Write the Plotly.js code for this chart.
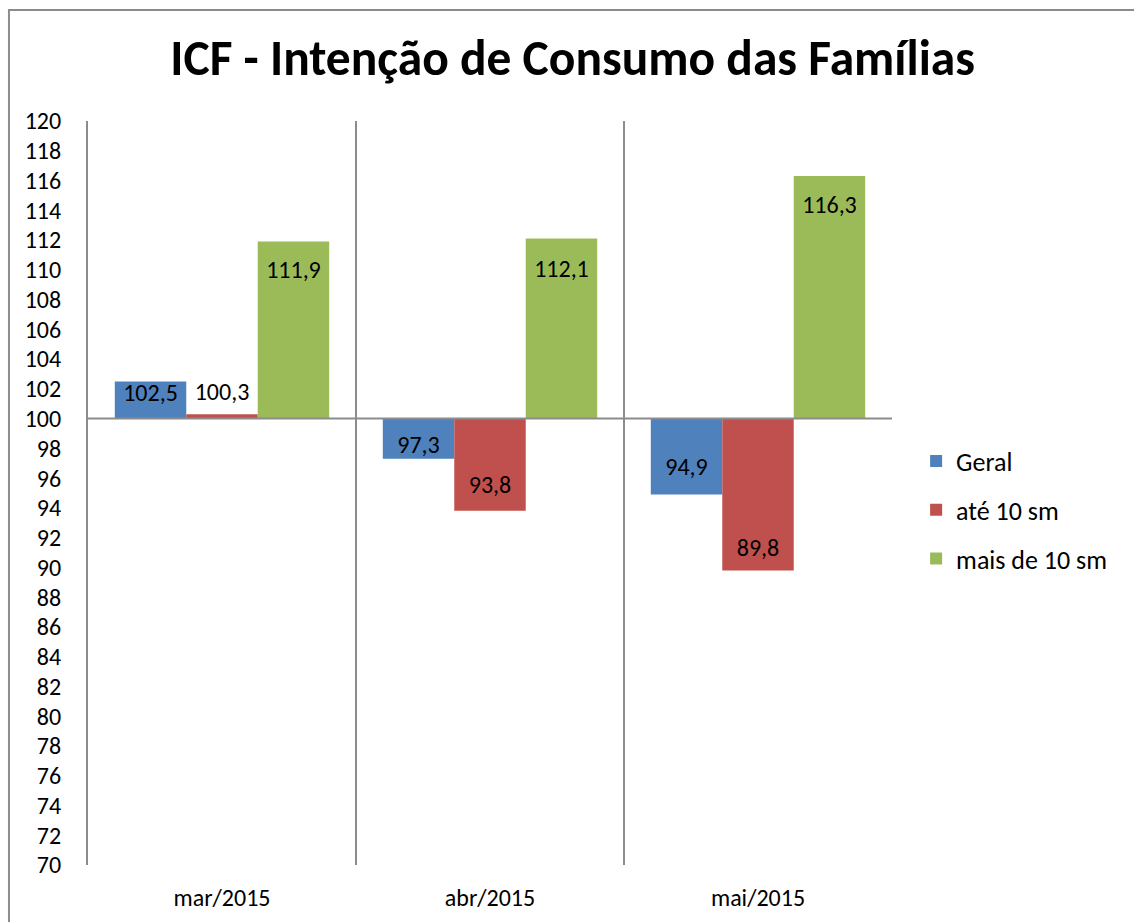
<!DOCTYPE html>
<html>
<head>
<meta charset="utf-8">
<script src="https://cdn.plot.ly/plotly-3.0.1.min.js"></script>
<style>html,body{margin:0;padding:0;background:#fff;}#chart{width:1134px;height:922px;}</style>
</head>
<body>
<div id="chart"></div>
<script>
const categories = ['mar/2015', 'abr/2015', 'mai/2015'];
const geral = [102.5, 97.3, 94.9];
const ate10 = [100.3, 93.8, 89.8];
const mais10 = [111.9, 112.1, 116.3];
const seriesNames = ['Geral', 'até 10 sm', 'mais de 10 sm'];
const yTicks = [70,72,74,76,78,80,82,84,86,88,90,92,94,96,98,100,102,104,106,108,110,112,114,116,118,120];

const BASE = 100;
const FONT = 'Carlito, Lato, "Open Sans", sans-serif';
const colors = ['#4F81BD', '#C0504D', '#9BBB59'];
const fmt = v => v.toFixed(1).replace('.', ',');
const allSeries = [geral, ate10, mais10];
// label padding (invisible marker sizes, px) per series/point
const labelPad = [[1, 0, 20], [12, 17, 12], [28, 31, 28]];

const data = [];
allSeries.forEach((vals, i) => {
  data.push({
    type: 'bar',
    name: seriesNames[i],
    legendgroup: 'g' + i,
    offsetgroup: 'o' + i,
    x: categories,
    y: vals.map(v => v - BASE),
    base: BASE,
    marker: {color: colors[i], line: {width: 0}},
    hoverinfo: 'skip'
  });
});
allSeries.forEach((vals, i) => {
  data.push({
    type: 'scatter',
    mode: 'markers+text',
    showlegend: false,
    offsetgroup: 'o' + i,
    x: categories,
    y: vals,
    text: vals.map(fmt),
    textposition: vals.map(v => v >= BASE + 1.5 ? 'bottom center' : 'top center'),
    marker: {size: labelPad[i], opacity: 0},
    cliponaxis: false,
    textfont: {family: FONT, size: 24, color: '#000'},
    hoverinfo: 'skip'
  });
});

const layout = {
  width: 1134, height: 922,
  margin: {l: 88, r: 242, t: 121, b: 57},
  paper_bgcolor: '#fff', plot_bgcolor: '#fff',
  separators: ',.',
  font: {family: FONT, size: 24, color: '#000'},
  title: {text: '<b>ICF - Intenção de Consumo das Famílias</b>', font: {family: FONT, size: 49.5, color: '#000'}, x: 0.505, xanchor: 'center', y: 0.937, yanchor: 'middle'},
  barmode: 'group', bargap: 0.2, bargroupgap: 0,
  scattermode: 'group', scattergap: 0.2,
  showlegend: true,
  legend: {x: 1.03, xanchor: 'left', y: 0.477, yanchor: 'middle', font: {family: FONT, size: 26, color: '#000'}, traceorder: 'grouped', tracegroupgap: 12, bgcolor: 'rgba(0,0,0,0)'},
  xaxis: {
    type: 'category', tickson: 'boundaries', showgrid: true, gridcolor: '#8c8c8c', gridwidth: 2,
    showline: false, ticks: '', ticklabelstandoff: 16, zeroline: false, fixedrange: true,
    tickfont: {family: FONT, size: 24, color: '#000'}
  },
  yaxis: {
    range: [70, 120], tickmode: 'array', tickvals: yTicks, ticktext: yTicks.map(String),
    showgrid: false, zeroline: false, showline: true, linecolor: '#8c8c8c', linewidth: 2,
    ticks: '', ticklabelstandoff: 20, fixedrange: true,
    tickfont: {family: FONT, size: 24, color: '#000'}
  },
  shapes: [
    {type: 'line', xref: 'paper', yref: 'y', x0: 0, x1: 1, y0: BASE, y1: BASE, line: {color: '#8c8c8c', width: 2}, layer: 'above'},
    {type: 'rect', xref: 'paper', yref: 'paper', x0: -0.0983, x1: 1.6, y0: -0.3, y1: 1.1492, line: {color: '#8c8c8c', width: 2}, fillcolor: 'rgba(0,0,0,0)', layer: 'below'}
  ]
};

Plotly.newPlot('chart', data, layout, {displayModeBar: false, staticPlot: true});
</script>
</body>
</html>
